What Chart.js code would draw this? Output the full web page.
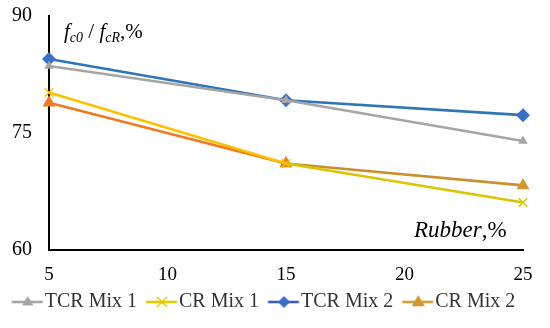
<!DOCTYPE html>
<html><head><meta charset="utf-8">
<script src="https://cdn.jsdelivr.net/npm/chart.js@4/dist/chart.umd.min.js"></script>
<style>html,body{margin:0;padding:0;background:#fff}#wrap{width:550px;height:328px}</style>
</head><body><div id="wrap"><canvas id="c"></canvas></div>
<script>
const rubber = [5, 15, 25];
const tcrMix1 = [83.6, 79.2, 74.0];
const crMix1 = [80.2, 71.1, 66.1];
const tcrMix2 = [84.5, 79.2, 77.3];
const crMix2 = [78.9, 71.1, 68.3];
const seriesNames = ['TCR Mix 1', 'CR Mix 1', 'TCR Mix 2', 'CR Mix 2'];
const xTicks = [5, 10, 15, 20, 25];
const yTicks = [60, 75, 90];

function legendIcon(line, fill, style, r) {
  const c = document.createElement('canvas');
  c.width = 60; c.height = 18;
  const x = c.getContext('2d');
  const a = 20.5, cx = a + 16;
  x.strokeStyle = line; x.lineWidth = 2.6;
  x.beginPath(); x.moveTo(a, 9); x.lineTo(a + 31, 9); x.stroke();
  x.fillStyle = fill; x.strokeStyle = fill;
  x.beginPath();
  if (style === 'triangle') { x.moveTo(cx, 9 - r); x.lineTo(cx + r * 0.95, 9 + r * 0.6); x.lineTo(cx - r * 0.95, 9 + r * 0.6); x.closePath(); x.fill(); }
  else if (style === 'rectRot') { x.moveTo(cx, 9 - r); x.lineTo(cx + r, 9); x.lineTo(cx, 9 + r); x.lineTo(cx - r, 9); x.closePath(); x.fill(); }
  else { x.lineWidth = 1.5; x.moveTo(cx - r, 9 - r); x.lineTo(cx + r, 9 + r); x.moveTo(cx + r, 9 - r); x.lineTo(cx - r, 9 + r); x.stroke(); }
  return c;
}

const defs = [
  {data: tcrMix1, segs: ['#A5A5A5', '#A5A5A5'], pts: ['#A5A5A5', '#A5A5A5', '#A5A5A5'], legLine: '#A5A5A5', legFill: '#A5A5A5', style: 'triangle', r: 5.5, lr: 6},
  {data: crMix1, segs: ['#FFC000', '#D9C500'], pts: ['#FFC000', '#E8C400', '#D9C500'], legLine: '#E0CC00', legFill: '#E0CC00', style: 'crossRot', r: 6, lr: 5},
  {data: tcrMix2, segs: ['#2E75B6', '#2E75B6'], pts: ['#3A6FC8', '#3A6FC8', '#3A6FC8'], legLine: '#3A5FC0', legFill: '#3A6FC8', style: 'rectRot', r: 7, lr: 6},
  {data: crMix2, segs: ['#F07A22', '#C99030'], pts: ['#F07A22', '#F07A22', '#D4972C'], legLine: '#D4A035', legFill: '#D4972C', style: 'triangle', r: 7.5, lr: 7},
];

const datasets = defs.map((d, i) => ({
  label: seriesNames[i],
  data: rubber.map((x, j) => ({x, y: d.data[j]})),
  borderColor: d.segs[0],
  backgroundColor: d.legFill,
  segment: {borderColor: (ctx) => d.segs[ctx.p0DataIndex]},
  pointBackgroundColor: d.pts,
  pointBorderColor: d.pts,
  pointStyle: d.style,
  pointRadius: d.r,
  pointBorderWidth: d.style === 'crossRot' ? 1.5 : 0,
  borderWidth: 2.6,
  tension: 0,
  fill: false,
  clip: false,
  icon: legendIcon(d.legLine, d.legFill, d.style, d.lr),
}));

const titles = {
  id: 'titles',
  afterDraw(chart) {
    const ctx = chart.ctx;
    ctx.save();
    ctx.fillStyle = '#000';
    ctx.textBaseline = 'alphabetic';
    let x = 64, y = 38;
    const big = 'italic 21px "Liberation Serif"', small = 'italic 14px "Liberation Serif"', up = '21px "Liberation Serif"';
    const parts = [['f', big, 0], ['c0', small, 4], [' / ', up, 0], ['f', big, 0], ['cR', small, 4], [',%', up, 0]];
    for (const [t, f, dy] of parts) { ctx.font = f; ctx.fillText(t, x, y + dy); x += ctx.measureText(t).width; }
    ctx.font = 'italic 23px "Liberation Serif"';
    ctx.fillText('Rubber', 414, 237);
    const w = ctx.measureText('Rubber').width;
    ctx.font = '23px "Liberation Serif"';
    ctx.fillText(',%', 414 + w, 237);
    ctx.restore();
  }
};

new Chart(document.getElementById('c'), {
  type: 'line',
  data: {datasets},
  options: {
    responsive: true, maintainAspectRatio: false, animation: false,
    layout: {padding: {left: 0, right: 27, top: 16, bottom: 6}},
    plugins: {
      tooltip: {enabled: false},
      legend: {
        position: 'bottom',
        labels: {
          usePointStyle: true, pointStyleWidth: 27, padding: 5,
          font: {family: 'Liberation Serif', size: 20}, color: '#333',
          generateLabels(chart) {
            return chart.data.datasets.map((ds, i) => ({
              text: ds.label, pointStyle: ds.icon, fillStyle: ds.backgroundColor,
              strokeStyle: ds.backgroundColor, lineWidth: 0, datasetIndex: i, hidden: false, fontColor: '#333'
            }));
          }
        }
      }
    },
    scales: {
      x: {
        type: 'linear', min: 5, max: 25,
        afterBuildTicks(s) { s.ticks = xTicks.map(v => ({value: v})); },
        afterFit(s) { s.paddingLeft = 0; s.paddingRight = 0; s.height = s.height - 12; s._computeLabelArea = () => undefined; },
        grid: {display: false, drawTicks: false},
        border: {display: true, color: '#000', width: 2},
        ticks: {padding: 13, color: '#000', font: {family: 'Liberation Serif', size: 19}}
      },
      y: {
        min: 60, max: 90,
        afterBuildTicks(s) { s.ticks = yTicks.map(v => ({value: v})); },
        afterFit(s) { s.width = 49; s.paddingTop = 0; s.paddingBottom = 0; },
        grid: {display: false, drawTicks: false},
        border: {display: true, color: '#000', width: 2},
        ticks: {padding: 17, color: '#000', font: {family: 'Liberation Serif', size: 20}}
      }
    }
  },
  plugins: [titles]
});
</script></body></html>
